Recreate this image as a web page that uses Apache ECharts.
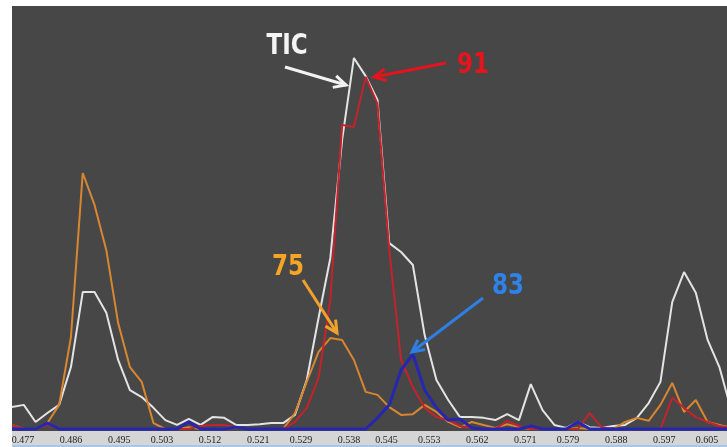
<!DOCTYPE html>
<html><head><meta charset="utf-8">
<script src="https://cdn.jsdelivr.net/npm/echarts@6/dist/echarts.min.js"></script>
<style>html,body{margin:0;padding:0;background:#fff}#c{width:727px;height:447px}</style>
</head><body><div id="c"></div>
<script>
// scan numbers (equally spaced acquisitions)
const scans = [0,1,2,3,4,5,6,7,8,9,10,11,12,13,14,15,16,17,18,19,20,21,22,23,24,25,26,27,28,29,30,31,32,33,34,35,36,37,38,39,40,41,42,43,44,45,46,47,48,49,50,51,52,53,54,55,56,57,58,59,60,61];
// relative intensities (% of TIC apex)
const tic = [5.9,6.5,1.9,4.3,6.5,16.7,36.9,36.9,31.3,18.6,
  10.5,8.6,5.7,2.4,1.1,2.7,1.1,3.2,3.0,1.1,
  1.1,1.3,1.6,1.6,3.8,13.2,29.9,46.1,77.9,100,
  95.1,88.7,50.1,47.7,44.2,25.3,13.2,7.8,3.2,3.2,
  3.0,2.4,4.0,2.4,12.1,5.1,1.1,0.3,1.9,0.5,
  0.3,0.8,1.1,3.0,7.0,12.7,34.2,42.3,36.7,24.0,
  16.7,5.1];
const ion75 = [1.1,0,0,1.6,6.5,24.8,69.0,60.4,48.2,28.6,
  16.7,12.7,1.6,0,0,0.5,0,0,0,0.5,
  0,0,0,0,4.3,12.7,20.8,24.5,24.0,18.6,
  10.0,9.2,5.9,3.8,4.0,6.5,4.6,1.9,0.5,1.9,
  1.1,0.3,1.3,0.5,0,0,0,0,0.3,0,
  0,0,1.9,3.0,2.2,6.5,12.4,4.6,7.8,1.9,
  1.1,0.3];
const ion91 = [1.1,0,0,1.1,0,0,0,0,0,0,
  0,0,0,0,0,0,0.8,1.1,1.1,0.5,
  0,0,0,0,1.9,5.7,13.7,34.8,81.9,81.4,
  94.9,87.6,48.2,18.6,11.3,5.7,3.2,2.4,0.8,0.3,
  0,0,2.2,0.8,0,0,0,0,0,4.3,
  0.5,0,0,0,0,0,8.4,5.7,3.2,1.9,
  0.8,0.3];
const ion83 = [0,0,0,1.6,0,0,0,0,0,0,
  0,0,0,0,0,1.9,0,0,0,0.5,
  0,0,0,0,0,0,0,0,0,0,
  0,3.0,6.5,15.9,20.2,10.5,5.7,2.4,2.7,0.3,
  0,0,0,0,0.8,0,0,0,1.9,0,
  0,0,0,0,0,0,0,0,0,0,
  0,0];
// retention time tick labels (min)
const tickLabels = [0.477,0.486,0.495,0.503,0.512,0.521,0.529,0.538,0.545,0.553,0.562,0.571,0.579,0.588,0.597,0.605];
const timeMin = 0.47494, timeMax = 0.60874;
const scanMax = 60.645;

function pairs(v){ return scans.map((s,i)=>[s, v[i]]); }

function arrow(x1,y1,x2,y2,color){
  const dx=x2-x1, dy=y2-y1, L=Math.hypot(dx,dy), ux=dx/L, uy=dy/L;
  const h=12, w=6;
  const bx=x2-ux*h, by=y2-uy*h;
  return [
    {type:'line', shape:{x1:x1,y1:y1,x2:x2,y2:y2}, style:{stroke:color,lineWidth:3}, z:100},
    {type:'polyline', shape:{points:[[bx-uy*w,by+ux*w],[x2,y2],[bx+uy*w,by-ux*w]]}, style:{stroke:color,lineWidth:3,fill:null,lineJoin:'miter'}, z:100}
  ];
}
function label(text,x,y,color){
  return {type:'text', x:x, y:y, scaleY:1.2, z:100,
    style:{text:text, fill:color, font:'bold 23px "DejaVu Sans"', textAlign:'center', textVerticalAlign:'middle'}};
}

const chart = echarts.init(document.getElementById('c'), null, {renderer:'canvas'});
chart.setOption({
  animation:false,
  backgroundColor:'#d5d5d5',
  grid:{left:12, right:0, top:6, bottom:16, show:true, backgroundColor:'#474747', borderWidth:0},
  xAxis:[
    {type:'value', min:0, max:scanMax, show:false},
    {type:'value', min:timeMin, max:timeMax, position:'bottom', gridIndex:0,
     axisLine:{show:false}, axisTick:{show:false}, splitLine:{show:false},
     axisLabel:{customValues:tickLabels, formatter:v=>v.toFixed(3), color:'#222', fontFamily:'"Liberation Serif", serif', fontSize:10, margin:4}}
  ],
  yAxis:{type:'value', min:-0.54, max:114, show:false, splitLine:{show:false}},
  series:[
    {name:'TIC', type:'line', data:pairs(tic), showSymbol:false, symbol:'none', lineStyle:{color:'#e4e4e4', width:2}, z:2},
    {name:'75', type:'line', data:pairs(ion75), showSymbol:false, symbol:'none', lineStyle:{color:'#d8862f', width:2}, z:3},
    {name:'91', type:'line', data:pairs(ion91), showSymbol:false, symbol:'none', lineStyle:{color:'#c4232b', width:2}, z:4},
    {name:'83', type:'line', data:pairs(ion83), showSymbol:false, symbol:'none', lineStyle:{color:'#2626b0', width:3}, z:5}
  ],
  graphic:[
    {type:'rect', shape:{x:0,y:0,width:727,height:6}, style:{fill:'#ffffff'}, z:90},
    {type:'rect', shape:{x:0,y:0,width:12,height:447}, style:{fill:'#ffffff'}, z:90},
    {type:'rect', shape:{x:12,y:445,width:715,height:2}, style:{fill:'#a9c6e4'}, z:90},
    ...arrow(285,67,346,85,'#f2f2f2'),
    ...arrow(446,63,374,77,'#e3141c'),
    ...arrow(303,280,337,333,'#f2a22a'),
    ...arrow(483,298,412,352,'#2f7fe2'),
    label('TIC',287,47,'#f4f4f4'),
    label('91',473,66,'#e8141c'),
    label('75',288,268,'#f5a425'),
    label('83',508,287,'#2f82ea')
  ]
});
</script>
</body></html>
